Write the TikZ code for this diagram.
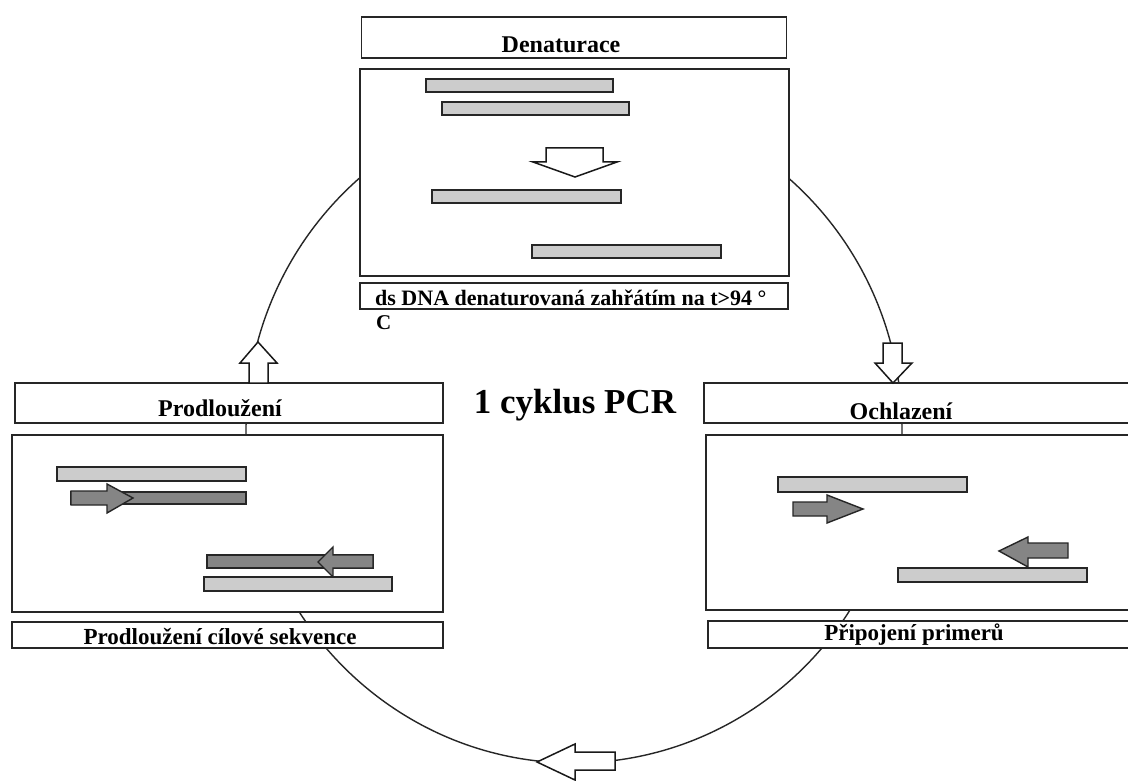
\documentclass[tikz,border=0pt]{standalone}
\usepackage{fontspec}
\setmainfont{Liberation Serif}
\begin{document}
\begin{tikzpicture}[x=1pt,y=-1pt,
  box/.style={draw=black!85,line width=1.6pt,fill=white,inner sep=0pt,outer sep=0pt},
  lbar/.style={draw=black!85,line width=1.4pt,fill=black!20},
  dbar/.style={draw=black!85,line width=1.4pt,fill=black!48},
  blk/.style={draw=black!90,line width=1.5pt,fill=white,line join=miter},
  prim/.style={draw=black!85,line width=1.4pt,fill=black!48,line join=miter},
  lab/.style={font=\bfseries\fontsize{24}{26}\selectfont,inner sep=0pt,anchor=base},
  captxt/.style={font=\bfseries\fontsize{23}{25}\selectfont,inner sep=0pt,anchor=base},
  ring/.style={draw=black!85,line width=1.4pt}]
\clip (0,0) rectangle (1128,781);
\fill[white] (0,0) rectangle (1128,781);
% cycle ring (passes behind the boxes)
\draw[ring] (574,430) ellipse [x radius=328, y radius=333];
% ---------- Denaturace ----------
\node[box,minimum width=425,minimum height=41] (denH) at (574,37.5) {};
\node[lab] (denT) at (561,53) {Denaturace};
\node[box,minimum width=429,minimum height=207] (denM) at (574.5,172.5) {};
\node[box,minimum width=428,minimum height=26] (denC) at (574,296) {};
\node[captxt,anchor=base west,font=\bfseries\fontsize{22}{24}\selectfont] (denCT) at (375,305) {ds DNA denaturovaná zahřátím na t>94 °};
\node[captxt,anchor=base west,font=\bfseries\fontsize{21}{24}\selectfont] (denCT2) at (376,329) {C};
\draw[lbar] (426,79) rectangle (613,92);
\draw[lbar] (442,102) rectangle (629,115);
\draw[blk] (546,148) -- (603,148) -- (603,162) -- (617,162) -- (575,177) -- (533,162) -- (546,162) -- cycle;
\draw[lbar] (432,190) rectangle (621,203);
\draw[lbar] (532,245) rectangle (721,258);
% ---------- Prodlouzeni ----------
\node[box,minimum width=428,minimum height=40] (proH) at (229,403) {};
\node[lab] (proT) at (220,416) {Prodloužení};
\node[box,minimum width=431,minimum height=177] (proM) at (227.5,523.5) {};
\node[box,minimum width=431,minimum height=26] (proC) at (227.5,635) {};
\node[captxt] (proCT) at (220,644) {Prodloužení cílové sekvence};
\draw[lbar] (57,467) rectangle (246,481);
\draw[dbar] (71,492) rectangle (246,504);
\draw[prim] (71,491) -- (107,491) -- (107,484) -- (133,498) -- (107,513) -- (107,505) -- (71,505) -- cycle;
\draw[dbar] (207,555) rectangle (373,568);
\draw[prim] (373,555) -- (333,555) -- (333,547) -- (318,562) -- (333,577) -- (333,568) -- (373,568) -- cycle;
\draw[lbar] (204,577) rectangle (392,591);
% ---------- Ochlazeni ----------
\node[box,minimum width=440,minimum height=40,anchor=west] (ochH) at (704,403) {};
\node[lab] (ochT) at (901,419) {Ochlazení};
\node[box,minimum width=440,minimum height=175,anchor=west] (ochM) at (706,522.5) {};
\node[box,minimum width=440,minimum height=27,anchor=west] (ochC) at (708,634.5) {};
\node[captxt] (ochCT) at (914,640) {Připojení primerů};
\draw[lbar] (778,477) rectangle (967,492);
\draw[prim] (793,502) -- (827,502) -- (827,495) -- (863,509) -- (827,523) -- (827,516) -- (793,516) -- cycle;
\draw[prim] (1068,543) -- (1028,543) -- (1028,537) -- (999,551) -- (1028,567) -- (1028,558) -- (1068,558) -- cycle;
\draw[lbar] (898,568) rectangle (1087,582);
% ---------- block arrows on the ring ----------
\draw[blk] (249,383) -- (249,363) -- (240,363) -- (258,342) -- (277,363) -- (268,363) -- (268,383) -- cycle;
\draw[blk] (883,343) -- (902,343) -- (902,363) -- (912,363) -- (893,383) -- (875,363) -- (883,363) -- cycle;
\draw[blk] (615,752) -- (575,752) -- (575,744) -- (537,762) -- (575,780) -- (575,770) -- (615,770) -- cycle;
% ---------- title ----------
\node[font=\bfseries\fontsize{35}{38}\selectfont,inner sep=0pt,anchor=base] (title) at (575,413) {1 cyklus PCR};
\end{tikzpicture}
\end{document}
